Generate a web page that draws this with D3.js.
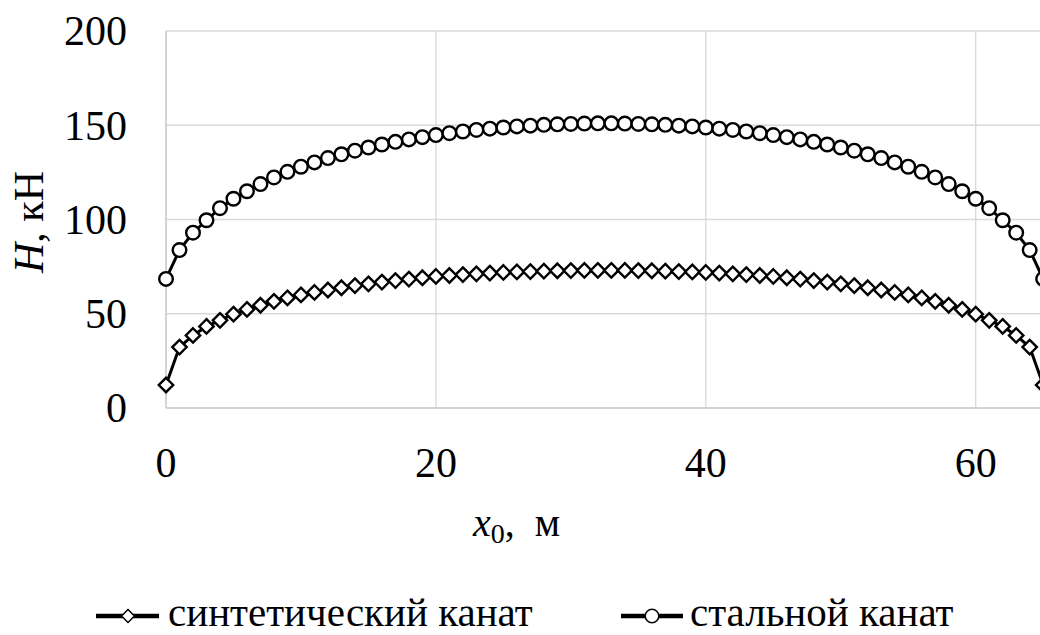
<!DOCTYPE html>
<html>
<head>
<meta charset="utf-8">
<script src="https://cdn.jsdelivr.net/npm/d3@7"></script>
<style>
	body { margin: 0; background: #fff; }
	svg text { font-family: "Liberation Serif", Tinos, "Times New Roman", Times, "Nimbus Roman", "DejaVu Serif", serif; fill: #000; }
	.grid line { stroke: #d9d9d9; stroke-width: 1.3; }
	.axisLine { stroke: #c6c6c6; stroke-width: 1.5; }
</style>
</head>
<body>
<div id="chart"></div>
<script>
//--------------------------------- data ---------------------------------
var xValues = [0, 1, 2, 3, 4, 5, 6, 7, 8, 9, 10, 11, 12, 13, 14, 15, 16, 17, 18, 19, 20,
	21, 22, 23, 24, 25, 26, 27, 28, 29, 30, 31, 32, 33, 34, 35, 36, 37, 38, 39, 40,
	41, 42, 43, 44, 45, 46, 47, 48, 49, 50, 51, 52, 53, 54, 55, 56, 57, 58, 59, 60,
	61, 62, 63, 64, 65];

var synthetic = [12.2, 32.3, 38.5, 43.3, 46.5, 49.8, 52.3, 54.5, 56.6, 58.4, 60.0,
	61.3, 62.6, 63.8, 64.9, 65.9, 66.8, 67.6, 68.4, 69.1, 69.8, 70.3, 70.8, 71.2,
	71.6, 71.9, 72.2, 72.4, 72.6, 72.8, 72.9, 73.0, 73.0, 73.0, 73.0, 72.9, 72.8,
	72.6, 72.4, 72.2, 71.9, 71.6, 71.2, 70.8, 70.3, 69.8, 69.1, 68.4, 67.6, 66.8,
	65.9, 64.9, 63.8, 62.6, 61.3, 60.0, 58.4, 56.6, 54.5, 52.3, 49.8, 46.5, 43.3,
	38.5, 32.3, 12.2];

var steel = [68.5, 83.8, 93.0, 99.6, 106.0, 111.0, 115.0, 118.8, 122.3, 125.3, 128.0,
	130.3, 132.6, 134.6, 136.5, 138.2, 139.8, 141.2, 142.5, 143.7, 144.8, 145.8,
	146.7, 147.5, 148.2, 148.8, 149.4, 149.8, 150.2, 150.5, 150.7, 150.9, 151.0,
	151.0, 150.9, 150.7, 150.5, 150.2, 149.8, 149.4, 148.8, 148.2, 147.5, 146.7,
	145.8, 144.8, 143.7, 142.5, 141.2, 139.8, 138.2, 136.5, 134.6, 132.6, 130.3,
	128.0, 125.3, 122.3, 118.8, 115.0, 111.0, 106.0, 99.6, 93.0, 83.8, 68.5];

var xTicks = [0, 20, 40, 60];
var yTicks = [0, 50, 100, 150, 200];
var seriesNames = ["синтетический канат", "стальной канат"];

//--------------------------------- set up ---------------------------------
var W = 1040, H = 635;
var plot = { left: 166, top: 31, bottom: 408 };

var svg = d3.select("#chart").append("svg")
	.attr("width", W)
	.attr("height", H)
	.style("display", "block");

var x = d3.scaleLinear().domain([0, 65]).range([plot.left, plot.left + 65 * 13.495]);
var y = d3.scaleLinear().domain([0, 200]).range([plot.bottom, plot.top]);

//gridlines
var grid = svg.append("g").attr("class", "grid");
grid.selectAll(".hg")
	.data(yTicks.filter(function(d) { return d > 0; }))
	.enter().append("line")
	.attr("x1", plot.left).attr("x2", x(65))
	.attr("y1", function(d) { return y(d); })
	.attr("y2", function(d) { return y(d); });
grid.selectAll(".vg")
	.data(xTicks.filter(function(d) { return d > 0; }))
	.enter().append("line")
	.attr("x1", function(d) { return x(d); })
	.attr("x2", function(d) { return x(d); })
	.attr("y1", plot.top).attr("y2", plot.bottom);

//axis lines
svg.append("line").attr("class", "axisLine")
	.attr("x1", plot.left).attr("x2", plot.left)
	.attr("y1", plot.top).attr("y2", plot.bottom);
svg.append("line").attr("class", "axisLine")
	.attr("x1", plot.left).attr("x2", x(65))
	.attr("y1", plot.bottom).attr("y2", plot.bottom);

//tick labels
svg.selectAll(".yLabel")
	.data(yTicks)
	.enter().append("text")
	.attr("class", "yLabel")
	.attr("x", 127)
	.attr("y", function(d) { return y(d); })
	.attr("dy", "0.34em")
	.attr("text-anchor", "end")
	.style("font-size", "42px")
	.text(function(d) { return d; });

svg.selectAll(".xLabel")
	.data(xTicks)
	.enter().append("text")
	.attr("class", "xLabel")
	.attr("x", function(d) { return x(d); })
	.attr("y", 477)
	.attr("text-anchor", "middle")
	.style("font-size", "42px")
	.text(function(d) { return d; });

//axis titles
var xt = svg.append("text")
	.attr("x", 473)
	.attr("y", 536)
	.style("font-size", "40px");
xt.append("tspan").style("font-style", "italic").text("x");
xt.append("tspan").attr("dy", 7).style("font-size", "28px").text("0");
xt.append("tspan").attr("dy", -7).text(",\u00a0\u00a0м");

var yt = svg.append("text")
	.attr("transform", "translate(43,222) rotate(-90)")
	.attr("text-anchor", "middle")
	.style("font-size", "42px");
yt.append("tspan").style("font-style", "italic").text("H");
yt.append("tspan").text(", кН");

//---------------------------------------- series ----------------------------------------
var synthData = xValues.map(function(d, i) { return { x: d, y: synthetic[i] }; });
var steelData = xValues.map(function(d, i) { return { x: d, y: steel[i] }; });

var line = d3.line()
	.x(function(d) { return x(d.x); })
	.y(function(d) { return y(d.y); });

var diamond = function(r) { return "M0," + (-r) + "L" + r + ",0L0," + r + "L" + (-r) + ",0Z"; };

[synthData, steelData].forEach(function(data, k) {
	svg.append("path")
		.datum(data)
		.attr("d", line)
		.attr("fill", "none")
		.attr("stroke", "#000")
		.attr("stroke-width", 3);

	var pts = svg.append("g").selectAll(".pt")
		.data(data)
		.enter();
	if (k === 0) {
		pts.append("path")
			.attr("d", diamond(7.2))
			.attr("transform", function(d) { return "translate(" + x(d.x) + "," + y(d.y) + ")"; })
			.attr("fill", "#fff")
			.attr("stroke", "#000")
			.attr("stroke-width", 2.4);
	} else {
		pts.append("circle")
			.attr("cx", function(d) { return x(d.x); })
			.attr("cy", function(d) { return y(d.y); })
			.attr("r", 6.8)
			.attr("fill", "#fff")
			.attr("stroke", "#000")
			.attr("stroke-width", 2.4);
	}
});

//---------------------------------------- legend ----------------------------------------
var legendItems = [
	{ x1: 96, x2: 159, mx: 128, tx: 168 },
	{ x1: 621, x2: 683, mx: 652, tx: 690 }
];
var legY = 616;
legendItems.forEach(function(it, k) {
	var g = svg.append("g");
	g.append("line")
		.attr("x1", it.x1).attr("x2", it.x2)
		.attr("y1", legY).attr("y2", legY)
		.attr("stroke", "#000").attr("stroke-width", 4.5);
	if (k === 0) {
		g.append("path")
			.attr("d", diamond(6.5))
			.attr("transform", "translate(" + it.mx + "," + legY + ")")
			.attr("fill", "#fff").attr("stroke", "#000").attr("stroke-width", 1.5);
	} else {
		g.append("circle")
			.attr("cx", it.mx).attr("cy", legY).attr("r", 6.8)
			.attr("fill", "#fff").attr("stroke", "#000").attr("stroke-width", 1.5);
	}
	g.append("text")
		.attr("x", it.tx)
		.attr("y", 626)
		.style("font-size", "41px")
		.text(seriesNames[k]);
});
</script>
</body>
</html>
